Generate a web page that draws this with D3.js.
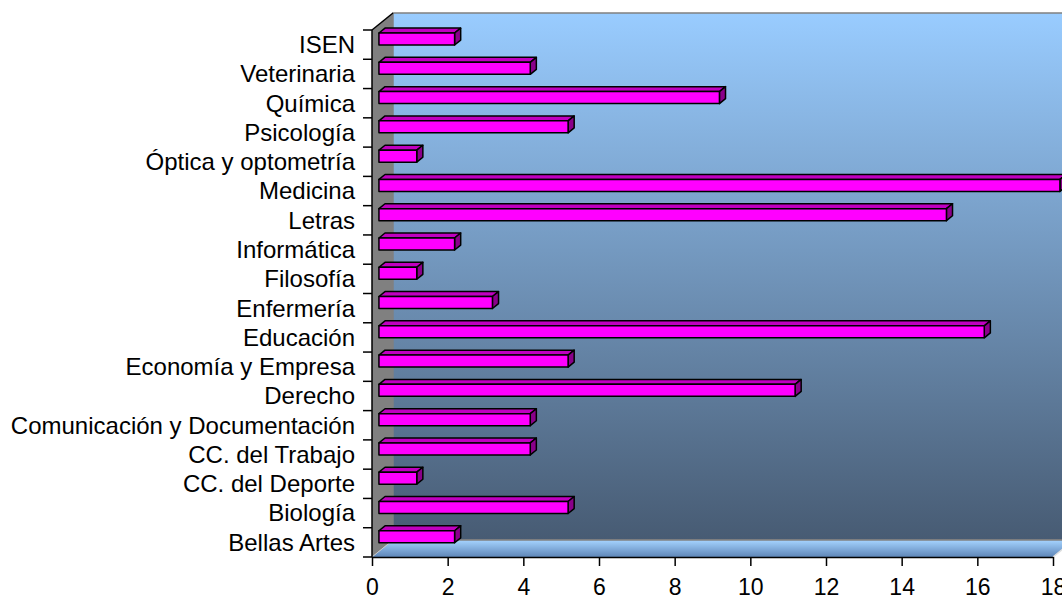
<!DOCTYPE html>
<html><head><meta charset="utf-8">
<script src="https://cdn.jsdelivr.net/npm/d3@7"></script>
<style>
body{margin:0;background:#fff}
svg{display:block}
text{font-family:"Liberation Sans",Arial,sans-serif;fill:#000}
</style>
</head><body>
<svg id="c" width="1062" height="599"></svg>
<script>
const categories = ["Bellas Artes","Biología","CC. del Deporte","CC. del Trabajo","Comunicación y Documentación","Derecho","Economía y Empresa","Educación","Enfermería","Filosofía","Informática","Letras","Medicina","Óptica y optometría","Psicología","Química","Veterinaria","ISEN"];
const values = [2,5,1,4,4,11,5,16,3,1,2,15,18,1,5,9,4,2];
const xTicks = [0,2,4,6,8,10,12,14,16,18];

const svg = d3.select("#c");
const x = d3.scaleLinear().domain([0,18]).range([372,1053]);
const y = d3.scaleBand().domain(categories).range([557,30]);
const DX = 21, DY = 17;
const t1 = 0.33, t2 = 0.62;
const P = (v, yy, t) => [x(v) + t*DX, yy - t*DY];
const pts = a => a.map(p => p.join(",")).join(" ");

const defs = svg.append("defs");
const wg = defs.append("linearGradient").attr("id","wallGrad").attr("x1",0).attr("y1",0).attr("x2",0).attr("y2",1);
wg.append("stop").attr("offset","0%").attr("stop-color","#99CCFF");
wg.append("stop").attr("offset","100%").attr("stop-color","#475B73");
const fg = defs.append("linearGradient").attr("id","floorGrad").attr("x1",0).attr("y1",0).attr("x2",0).attr("y2",1);
fg.append("stop").attr("offset","0%").attr("stop-color","#A6D4FF");
fg.append("stop").attr("offset","100%").attr("stop-color","#5E86B8");

const x0 = x(0), x1 = x(18), yT = y.range()[1], yB = y.range()[0];

// back wall
svg.append("polygon")
  .attr("points", pts([[x0+DX,yT-DY],[x1+DX,yT-DY],[x1+DX,yB-DY],[x0+DX,yB-DY]]))
  .attr("fill","url(#wallGrad)").attr("stroke","#808080").attr("stroke-width",1.5);
// left wall
svg.append("polygon")
  .attr("points", pts([[x0,yB],[x0,yT],[x0+DX,yT-DY],[x0+DX,yB-DY]]))
  .attr("fill","#808080");
svg.append("line").attr("x1",x0).attr("y1",yT).attr("x2",x0+DX).attr("y2",yT-DY)
  .attr("stroke","#000").attr("stroke-width",1.5);
// floor
svg.append("polygon")
  .attr("points", pts([[x0,yB],[x1,yB],[x1+DX,yB-DY],[x0+DX,yB-DY]]))
  .attr("fill","url(#floorGrad)");
svg.append("line").attr("x1",x0+DX).attr("y1",yB-DY).attr("x2",x1+DX).attr("y2",yB-DY)
  .attr("stroke","#808080").attr("stroke-width",1.5);
svg.append("line").attr("x1",x0).attr("y1",yB).attr("x2",x0+DX).attr("y2",yB-DY)
  .attr("stroke","#c8c8c8").attr("stroke-width",1);
svg.append("line").attr("x1",x1).attr("y1",yB).attr("x2",x1+DX).attr("y2",yB-DY)
  .attr("stroke","#e0e0e0").attr("stroke-width",1.5);

// bars
const h = y.step()*0.41;
const bars = svg.append("g").selectAll("g").data(categories.map((c,i)=>({c, v: values[i]})))
  .join("g");
bars.each(function(d){
  const g = d3.select(this);
  const yc = y(d.c) + y.step()/2, a = yc - h/2, b = yc + h/2;
  g.append("polygon").attr("points", pts([P(0,a,t1),P(d.v,a,t1),P(d.v,a,t2),P(0,a,t2)]))
    .attr("fill","#C000C0").attr("stroke","#000").attr("stroke-width",1.5).attr("stroke-linejoin","round");
  g.append("polygon").attr("points", pts([P(d.v,a,t1),P(d.v,a,t2),P(d.v,b,t2),P(d.v,b,t1)]))
    .attr("fill","#8A008A").attr("stroke","#000").attr("stroke-width",1.5).attr("stroke-linejoin","round");
  g.append("polygon").attr("points", pts([P(0,a,t1),P(d.v,a,t1),P(d.v,b,t1),P(0,b,t1)]))
    .attr("fill","#FF00FF").attr("stroke","#000").attr("stroke-width",1.5).attr("stroke-linejoin","round");
});

// y axis
const ya = svg.append("g").attr("transform",`translate(${x0},0)`)
  .call(d3.axisLeft(y).tickSize(0).tickPadding(17));
ya.select(".domain").remove();
ya.selectAll("text").attr("font-size",24).attr("dy","0.35em")
  .style("font-family","'Liberation Sans',Arial,sans-serif");
svg.append("g").selectAll("line").data(d3.range(categories.length+1)).join("line")
  .attr("x1",x0-9).attr("x2",x0)
  .attr("y1",i => yT + i*y.step()).attr("y2",i => yT + i*y.step())
  .attr("stroke","#000").attr("stroke-width",1.5);
svg.append("line").attr("x1",x0).attr("x2",x0).attr("y1",yT).attr("y2",yB)
  .attr("stroke","#000").attr("stroke-width",1.5);

// x axis
const xa = svg.append("g").attr("transform",`translate(0,${yB})`)
  .call(d3.axisBottom(x).tickValues(xTicks).tickSize(9).tickPadding(13).tickSizeOuter(0));
xa.select(".domain").attr("stroke","#000").attr("stroke-width",1.5);
xa.selectAll(".tick line").attr("stroke","#000").attr("stroke-width",1.5);
xa.selectAll("text").attr("font-size",23)
  .style("font-family","'Liberation Sans',Arial,sans-serif");
</script>
</body></html>
